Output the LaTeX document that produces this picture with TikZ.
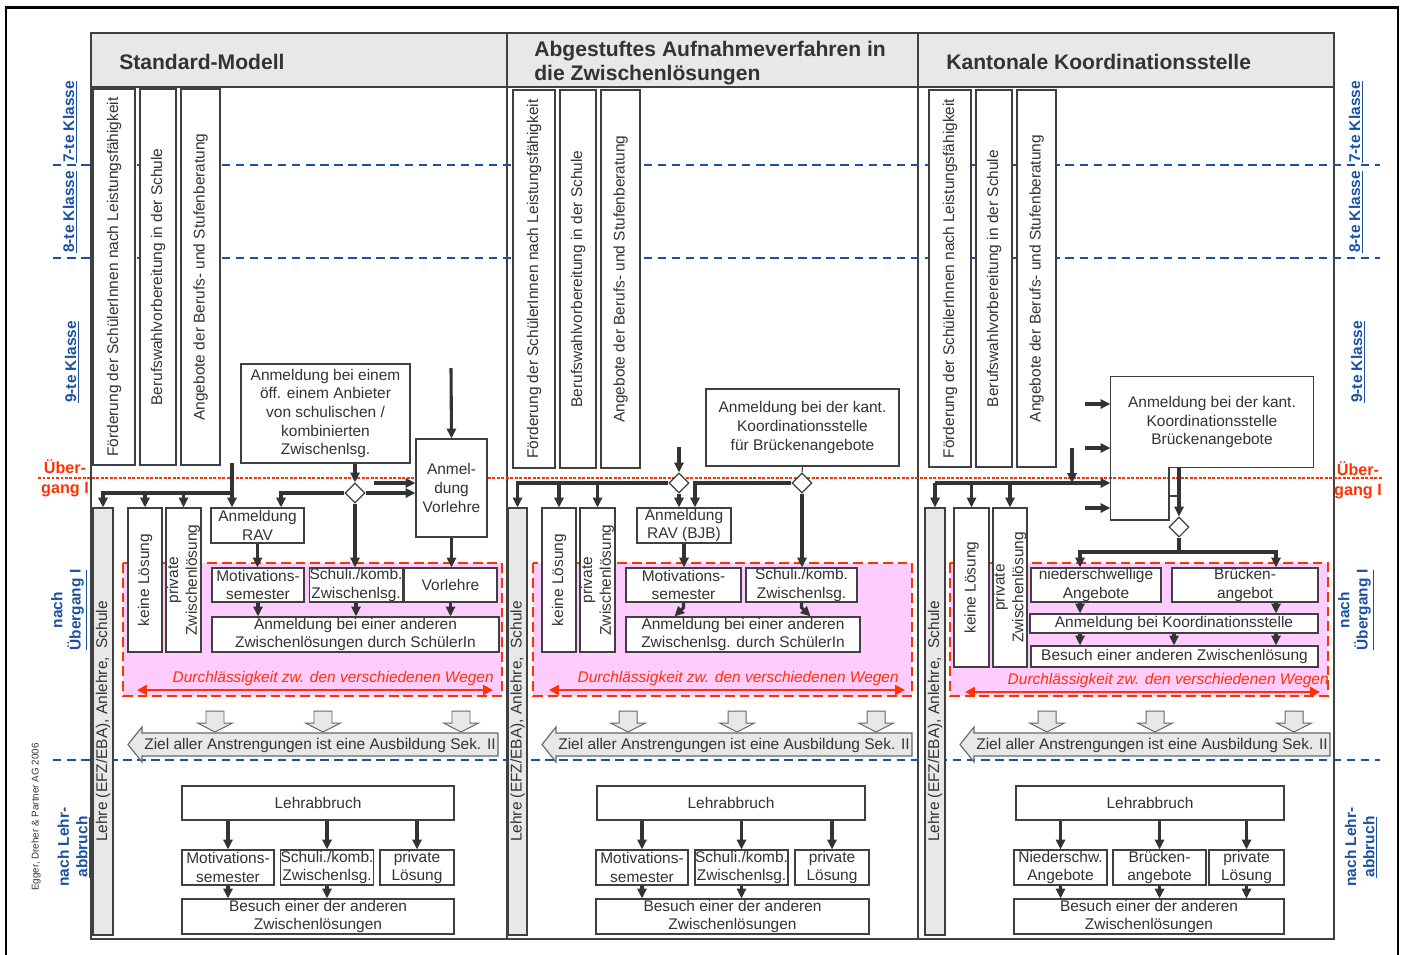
\documentclass[tikz,border=0pt]{standalone}
\usepackage{fontspec}
\setmainfont{Liberation Sans}
\usetikzlibrary{positioning,shapes.geometric,arrows.meta,calc}

\definecolor{txtgray}{RGB}{51,51,51}
\definecolor{boxgray}{RGB}{64,64,64}
\definecolor{arrgray}{RGB}{51,51,51}
\definecolor{hdrgray}{RGB}{232,232,232}
\definecolor{lvlblue}{RGB}{28,82,163}
\definecolor{warnred}{RGB}{255,51,0}
\definecolor{zonepink}{RGB}{255,204,255}

\newdimen\pxu \pxu=0.025cm

\tikzset{
  sz/.style 2 args={minimum width=#1\pxu, minimum height=#2\pxu},
  box/.style={draw=boxgray, line width=0.8pt, fill=white, inner sep=0pt, align=center,
    text=txtgray, font=\fontsize{11}{13.2}\selectfont},
  vbox/.style={box, rotate=90},
  lehre/.style={vbox, fill=hdrgray},
  dia/.style={diamond, draw=boxgray, line width=0.8pt, fill=white, inner sep=0pt, minimum size=20\pxu},
  flowline/.style={draw=arrgray, line width=2.2pt},
  flow/.style={flowline, -{Triangle[length=7pt,width=6.5pt]}},
  colline/.style={draw=boxgray, line width=0.8pt},
  zone/.style={draw=warnred, line width=1.8pt, dash pattern=on 7pt off 3.5pt, fill=zonepink},
  level/.style={draw=lvlblue, line width=2pt, dash pattern=on 6pt off 4pt},
  uebergang/.style={draw=warnred, line width=2pt, dash pattern=on 2pt off 1.2pt},
  lvl/.style={rotate=90, text=lvlblue, font=\bfseries\fontsize{11}{13}\selectfont, align=center, inner sep=0pt},
  uebl/.style={text=warnred, font=\bfseries\fontsize{11.5}{14}\selectfont, align=center, inner sep=0pt},
  durch/.style={text=warnred, font=\itshape\fontsize{11}{13}\selectfont, anchor=east, inner sep=0pt},
  durchpfeil/.style={draw=warnred, line width=1.6pt, {Triangle[length=7pt,width=7pt]}-{Triangle[length=7pt,width=7pt]}},
  block/.style={draw=boxgray!80, fill=hdrgray, line width=0.7pt},
  ziel/.style={text=txtgray, font=\fontsize{11}{13}\selectfont, inner sep=0pt},
  title/.style={anchor=west, font=\bfseries\fontsize{15}{17}\selectfont, text=txtgray, align=left, inner sep=0pt}
}

\begin{document}
\begin{tikzpicture}[x=1\pxu,y=-1\pxu]
\useasboundingbox (0,0) rectangle (1405,954);
\fill[white] (0,0) rectangle (1405,954);
\draw[line width=1.5pt] (6,7.5) rectangle (1398,962);

% columns and header band
\draw[colline, fill=white] (91,33) rectangle (1334,939);
\draw[colline, fill=hdrgray] (91,33) rectangle (1334,87);
\foreach \xx in {507,918} \draw[colline] (\xx,33) -- (\xx,939);
\node[title] (t1) at (119,62) {Standard-Modell};
\node[title] (t2) at (534,63) {Abgestuftes Aufnahmeverfahren in\\die Zwischenlösungen};
\node[title] (t3) at (946,62) {Kantonale Koordinationsstelle};

% school years and transition
\foreach \yy in {165,258,760} \draw[level] (53,\yy) -- (1380,\yy);
\draw[uebergang] (38,478) -- (1382,478);

\node[lvl] (l7) at (70,122) {\underline{7-te Klasse}};
\node[lvl] (l8) at (70,212) {\underline{8-te Klasse}};
\node[lvl] (l9) at (72,362) {\underline{9-te Klasse}};
\node[lvl] (lue) at (69,610) {nach\\\underline{Übergang I}};
\node[lvl] (lla) at (74,847) {nach Lehr-\\\underline{abbruch}};
\node[lvl] (r7) at (1356,122) {\underline{7-te Klasse}};
\node[lvl] (r8) at (1356,212) {\underline{8-te Klasse}};
\node[lvl] (r9) at (1358,362) {\underline{9-te Klasse}};
\node[lvl] (rue) at (1356,610) {nach\\\underline{Übergang I}};
\node[lvl] (rla) at (1361,847) {nach Lehr-\\\underline{abbruch}};
\node[uebl] (lueb) at (65,478) {Über-\\gang I};
\node[uebl] (rueb) at (1358,480) {Über-\\gang I};
\node[rotate=90, inner sep=0pt, text=txtgray, font=\fontsize{7}{8}\selectfont] (credit) at (36,817) {Egger, Dreher \& Partner AG 2006};

% permeability zones
\draw[zone] (123,563) rectangle (502,696);
\draw[zone] (533,563) rectangle (912,696);
\draw[zone] (950,563) rectangle (1328,696);

% ---------- Standard-Modell ----------
\node[vbox, sz={376}{42}] (c1f) at (114,277) {Förderung der SchülerInnen nach Leistungsfähigkeit};
\node[vbox, sz={376}{36}] (c1b) at (158,277) {Berufswahlvorbereitung in der Schule};
\node[vbox, sz={376}{39}] (c1a) at (200.5,277) {Angebote der Berufs- und Stufenberatung};
\node[lehre, sz={427}{20}] (c1l) at (103,721.5) {Lehre (EFZ/EBA), Anlehre,~~Schule};
\node[vbox, sz={144}{34}] (c1k) at (145,580) {keine Lösung};
\node[vbox, sz={144}{35}] (c1p) at (183.5,580) {private\\Zwischenlösung};
\node[box, sz={93}{35}] (c1rav) at (257.5,525.5) {Anmeldung\\RAV};
\node[box, sz={169}{99}] (c1anm) at (325.5,413.5) {Anmeldung bei einem\\öff. einem Anbieter\\von schulischen /\\kombinierten\\Zwischenlsg.};
\node[box, sz={71}{98}] (c1avl) at (451.5,488) {Anmel-\\dung\\Vorlehre};
\node[dia] (c1dia) at (355,493) {};
\node[box, sz={92}{34}] (c1mot) at (258,585) {Motivations-\\semester};
\node[box, sz={92}{34}] (c1sch) at (356,585) {Schuli./komb.\\Zwischenlsg.};
\node[box, sz={93}{34}] (c1vl) at (450.5,585) {Vorlehre};
\node[box, sz={287}{35}] (c1and) at (355.5,634.5) {Anmeldung bei einer anderen\\Zwischenlösungen durch SchülerIn};
\node[durch] (c1dur) at (494,678) {Durchlässigkeit zw. den verschiedenen Wegen};
\node[box, sz={272}{34}] (c1lab) at (318,803) {Lehrabbruch};
\node[box, sz={92}{35}] (c1lm) at (228,867.5) {Motivations-\\semester};
\node[box, sz={92}{35}] (c1ls) at (327,867.5) {Schuli./komb.\\Zwischenlsg.};
\node[box, sz={74}{35}] (c1lp) at (417,867.5) {private\\Lösung};
\node[box, sz={272}{35}] (c1lb) at (318,916.5) {Besuch einer der anderen\\Zwischenlösungen};

% rotated boxes: their visual top is the east anchor
\coordinate (c1in) at (232,463);
\coordinate (c1in2) at (374,483);
\coordinate (c1top) at (451,368);
\coordinate (c1rav2) at ($(c1rav.north)+(23.5,0)$);
\draw[flow] (c1in) -- (c1in |- c1rav.north);
\draw[flow] (c1in |- c1dia) -| (c1l.east);
\foreach \n in {c1k,c1p} \draw[flow] (\n.east |- c1dia) -- (\n.east);
\draw[flow] (c1dia |- c1anm.south) -- (c1dia.north);
\draw[flow] (c1dia.west) -| (c1rav2);
\draw[flow] (c1dia.east) -- (c1dia.east -| c1avl.west);
\draw[flow] (c1in2) -- (c1in2 -| c1avl.west);
\draw[flow] (c1top) -- (c1avl.north);
\draw[flow] (c1dia.south) -- (c1dia |- c1sch.north);
\draw[flow] (c1avl.south) -- (c1avl.south |- c1vl.north);
\draw[flow] (c1rav.south) -- (c1rav.south |- c1mot.north);
\foreach \n in {c1mot,c1sch,c1vl} \draw[flow] (\n.south) -- (\n.south |- c1and.north);
\foreach \n in {c1lm,c1ls,c1lp} \draw[flow] (c1lab.south -| \n.north) -- (\n.north);
\foreach \n in {c1lm,c1ls} \draw[flow] (\n.south) -- (\n.south |- c1lb.north);

% ---------- Abgestuftes Aufnahmeverfahren ----------
\node[vbox, sz={378}{42}] (c2f) at (534,279) {Förderung der SchülerInnen nach Leistungsfähigkeit};
\node[vbox, sz={378}{36}] (c2b) at (578,279) {Berufswahlvorbereitung in der Schule};
\node[vbox, sz={378}{39}] (c2a) at (620.5,279) {Angebote der Berufs- und Stufenberatung};
\node[lehre, sz={427}{19}] (c2l) at (517.5,721.5) {Lehre (EFZ/EBA), Anlehre,~~Schule};
\node[vbox, sz={144}{34}] (c2k) at (559,580) {keine Lösung};
\node[vbox, sz={144}{35}] (c2p) at (597.5,580) {private\\Zwischenlösung};
\node[box, sz={94}{35}] (c2rav) at (684,525.5) {Anmeldung\\RAV (BJB)};
\node[box, sz={193}{77}] (c2kant) at (802.5,427.5) {Anmeldung bei der kant.\\Koordinationsstelle\\für Brückenangebote};
\node[dia] (c2d1) at (679,483) {};
\node[dia] (c2d2) at (802,483) {};
\node[box, sz={115}{34}] (c2mot) at (683.5,585) {Motivations-\\semester};
\node[box, sz={111}{34}] (c2sch) at (801.5,585) {Schuli./komb.\\Zwischenlsg.};
\node[box, sz={234}{35}] (c2and) at (743,634.5) {Anmeldung bei einer anderen\\Zwischenlsg. durch SchülerIn};
\node[durch] (c2dur) at (899,678) {Durchlässigkeit zw. den verschiedenen Wegen};
\node[box, sz={268}{34}] (c2lab) at (731,803) {Lehrabbruch};
\node[box, sz={92}{35}] (c2lm) at (642,867.5) {Motivations-\\semester};
\node[box, sz={93}{35}] (c2ls) at (741.5,867.5) {Schuli./komb.\\Zwischenlsg.};
\node[box, sz={74}{35}] (c2lp) at (832,867.5) {private\\Lösung};
\node[box, sz={273}{35}] (c2lb) at (732.5,916.5) {Besuch einer der anderen\\Zwischenlösungen};

\coordinate (c2top) at (679,447);
\coordinate (c2rav2) at ($(c2rav.north)+(11,0)$);
\draw[flow] (c2top) -- (c2d1.north);
\draw[flow] (c2d1.west) -| (c2l.east);
\foreach \n in {c2k,c2p} \draw[flow] (\n.east |- c2d1) -- (\n.east);
\draw[flow] (c2d1.south) -- (c2d1 |- c2rav.north);
\draw[colline] (c2kant.south) -- (c2d2.north);
\draw[flow] (c2d2.west) -| (c2rav2);
\draw[flow] (c2d2.south) -- (c2d2 |- c2sch.north);
\draw[flow] (c2rav.south) -- (c2rav.south |- c2mot.north);
\draw[flow] (c2mot.south) -- ++(0,5) -- ($(c2mot.south |- c2and.north)+(-9,0)$);
\draw[flow] (c2sch.south) -- ++(0,5) -- ($(c2sch.south |- c2and.north)+(9,0)$);
\foreach \n in {c2lm,c2ls,c2lp} \draw[flow] (c2lab.south -| \n.north) -- (\n.north);
\foreach \n in {c2lm,c2ls} \draw[flow] (\n.south) -- (\n.south |- c2lb.north);

% ---------- Kantonale Koordinationsstelle ----------
\node[vbox, sz={377}{42}] (c3f) at (950,278.5) {Förderung der SchülerInnen nach Leistungsfähigkeit};
\node[vbox, sz={377}{36}] (c3b) at (994,278.5) {Berufswahlvorbereitung in der Schule};
\node[vbox, sz={377}{39}] (c3a) at (1036.5,278.5) {Angebote der Berufs- und Stufenberatung};
\node[lehre, sz={427}{20}] (c3l) at (935,721.5) {Lehre (EFZ/EBA), Anlehre,~~Schule};
\node[vbox, sz={159}{35}] (c3k) at (971.5,587.5) {keine Lösung};
\node[vbox, sz={159}{34}] (c3p) at (1010,587.5) {private\\Zwischenlösung};
\node[box, draw=none, fill=none, sz={202}{90}] (c3kant) at (1212,422) {Anmeldung bei der kant.\\Koordinationsstelle\\Brückenangebote};
\coordinate (c3foot) at (1169,520);
\draw[colline] (c3kant.south east) -- (c3kant.north east) -- (c3kant.north west)
  -- (c3kant.west |- c3foot) -- (c3foot) -- (c3foot |- c3kant.south) -- cycle;
\node[dia] (c3dia) at (1179,527) {};
\node[box, sz={130}{34}] (c3nie) at (1096,585) {niederschwellige\\Angebote};
\node[box, sz={146}{34}] (c3bru) at (1245,585) {Brücken-\\angebot};
\node[box, sz={288}{19}] (c3anm) at (1174,623.5) {Anmeldung bei Koordinationsstelle};
\node[box, sz={287}{21}] (c3bes) at (1174.5,656.5) {Besuch einer anderen Zwischenlösung};
\node[durch] (c3dur) at (1329,680) {Durchlässigkeit zw. den verschiedenen Wegen};
\node[box, sz={268}{34}] (c3lab) at (1150,803) {Lehrabbruch};
\node[box, sz={93}{35}] (c3lm) at (1060.5,867.5) {Niederschw.\\Angebote};
\node[box, sz={93}{35}] (c3lb2) at (1159.5,867.5) {Brücken-\\angebote};
\node[box, sz={75}{35}] (c3lp) at (1246.5,867.5) {private\\Lösung};
\node[box, sz={270}{35}] (c3lb) at (1149,916.5) {Besuch einer der anderen\\Zwischenlösungen};

\coordinate (c3top) at (1072,448);
\coordinate (c3hub) at (1072,483);
\coordinate (c3tick) at (1169,496);
\coordinate (c3split) at (1179,552);
\coordinate (c3xl) at (1080,0);
\coordinate (c3xr) at (1276,0);
\foreach \i/\yy in {1/404,2/448,3/508} {
  \coordinate (c3e\i) at (1085,\yy);
  \draw[flow] (c3e\i) -- (c3e\i -| c3kant.west);
}
\draw[flow] (c3top) -- (c3hub);
\draw[flow] (c3l.east |- c3hub) -- (c3hub -| c3kant.west);
\foreach \n in {c3l,c3k,c3p} \draw[flow] (\n.east |- c3hub) -- (\n.east);
\draw[flow] (c3dia |- c3kant.south) -- (c3dia.north);
\draw[colline] (c3tick) -- (c3tick -| c3dia);
\draw[flowline] (c3dia.south) -- (c3split);
\draw[flow] (c3split) -| (c3xl |- c3nie.north);
\draw[flow] (c3split) -| (c3xr |- c3bru.north);
\draw[flow] (c3xl |- c3nie.south) -- (c3xl |- c3anm.north);
\draw[flow] (c3xr |- c3bru.south) -- (c3xr |- c3anm.north);
\foreach \n in {c3xl,c3anm,c3xr} \draw[flow] (\n |- c3anm.south) -- (\n |- c3bes.north);
\foreach \n in {c3lm,c3lb2,c3lp} {
  \draw[flow] (c3lab.south -| \n.north) -- (\n.north);
  \draw[flow] (\n.south) -- (\n.south |- c3lb.north);
}

% permeability arrows, block arrows and goal
\foreach \c/\l/\r/\yy in {c1/137/493/690, c2/549/905/690, c3/965/1320/692} {
  \coordinate (\c dl) at (\l,\yy);
  \coordinate (\c dr) at (\r,\yy);
  \draw[durchpfeil] (\c dl) -- (\c dr);
}
\foreach \cx in {215,323,461,628,737,876,1047,1155,1294}
  \draw[block] (\cx-9,711) -- (\cx+9,711) -- (\cx+9,723) -- (\cx+17.5,723)
    -- (\cx,732) -- (\cx-17.5,723) -- (\cx-9,723) -- cycle;
\foreach \c/\t/\r in {c1/128/498, c2/542/912, c3/960/1330} {
  \draw[block, line width=0.8pt] (\t,744.5) -- (\t+14,727) -- (\t+14,733) -- (\r,733)
    -- (\r,756) -- (\t+14,756) -- (\t+14,762) -- cycle;
  \node[ziel] (\c ziel) at ({(\t+\r)/2+7},745) {Ziel aller Anstrengungen ist eine Ausbildung Sek. II};
}
\end{tikzpicture}
\end{document}
